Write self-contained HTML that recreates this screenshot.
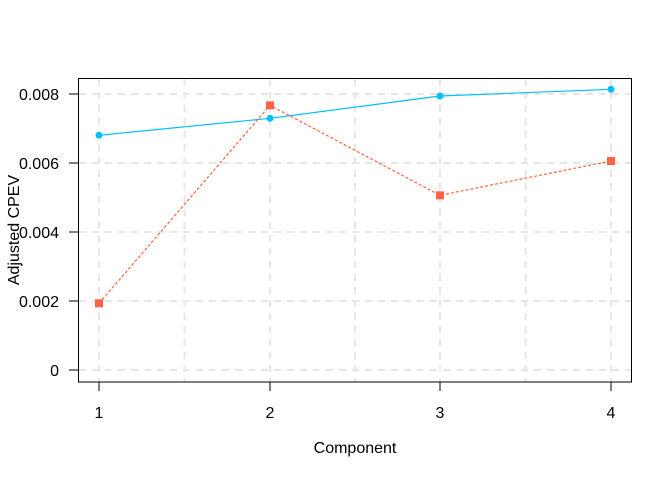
<!DOCTYPE html>
<html><head><style>body{margin:0;background:#fff}svg text{font-family:"Liberation Sans",Arial,sans-serif}</style></head>
<body>
<svg width="672" height="480" xmlns="http://www.w3.org/2000/svg">
<g stroke="#e6e6e6" stroke-width="2" stroke-dasharray="7,6" fill="none">
<line x1="79" x2="631" y1="94" y2="94"/><line x1="79" x2="631" y1="163" y2="163"/>
<line x1="79" x2="631" y1="232" y2="232"/><line x1="79" x2="631" y1="301" y2="301"/>
<line x1="79" x2="631" y1="370" y2="370"/>
<line x1="99" x2="99" y1="79" y2="382"/><line x1="184.5" x2="184.5" y1="79" y2="382"/>
<line x1="270" x2="270" y1="79" y2="382"/><line x1="355" x2="355" y1="79" y2="382"/>
<line x1="440" x2="440" y1="79" y2="382"/><line x1="525.5" x2="525.5" y1="79" y2="382"/>
<line x1="611" x2="611" y1="79" y2="382"/>
</g>
<rect x="78.5" y="78.5" width="553" height="303.5" fill="none" stroke="#000" stroke-width="1"/>
<g stroke="#000"><line x1="69" x2="78" y1="94" y2="94"/><line x1="69" x2="78" y1="163" y2="163"/>
<line x1="69" x2="78" y1="232" y2="232"/><line x1="69" x2="78" y1="301" y2="301"/><line x1="69" x2="78" y1="370" y2="370"/>
<line x1="99" x2="99" y1="382" y2="391"/><line x1="270" x2="270" y1="382" y2="391"/>
<line x1="440" x2="440" y1="382" y2="391"/><line x1="611" x2="611" y1="382" y2="391"/></g>
<g font-size="16" text-anchor="end"><text x="59" y="100">0.008</text><text x="59" y="169">0.006</text>
<text x="59" y="238">0.004</text><text x="59" y="307">0.002</text><text x="59" y="376">0</text></g>
<g font-size="16" text-anchor="middle"><text x="99" y="418">1</text><text x="270" y="418">2</text>
<text x="440" y="418">3</text><text x="611" y="418">4</text>
<text x="355" y="453">Component</text></g>
<text transform="translate(19,230) rotate(-90)" font-size="16" text-anchor="middle">Adjusted CPEV</text>
<polyline points="99,135.3 270,118.3 440,96 611,89.3" fill="none" stroke="#00bfff" stroke-width="1.2"/>
<polyline points="99,303.3 270,105.3 440,195.3 611,161" fill="none" stroke="#ff6347" stroke-width="1.2" stroke-dasharray="3,2"/>
<g fill="#00bfff"><circle cx="99" cy="135.3" r="3.5"/><circle cx="270" cy="118.3" r="3.5"/><circle cx="440" cy="96" r="3.5"/><circle cx="611" cy="89.3" r="3.5"/></g>
<g fill="#ff6347"><rect x="95" y="299.3" width="8" height="8"/><rect x="266" y="101.3" width="8" height="8"/><rect x="436" y="191.3" width="8" height="8"/><rect x="607" y="157" width="8" height="8"/></g>
</svg>
</body></html>
